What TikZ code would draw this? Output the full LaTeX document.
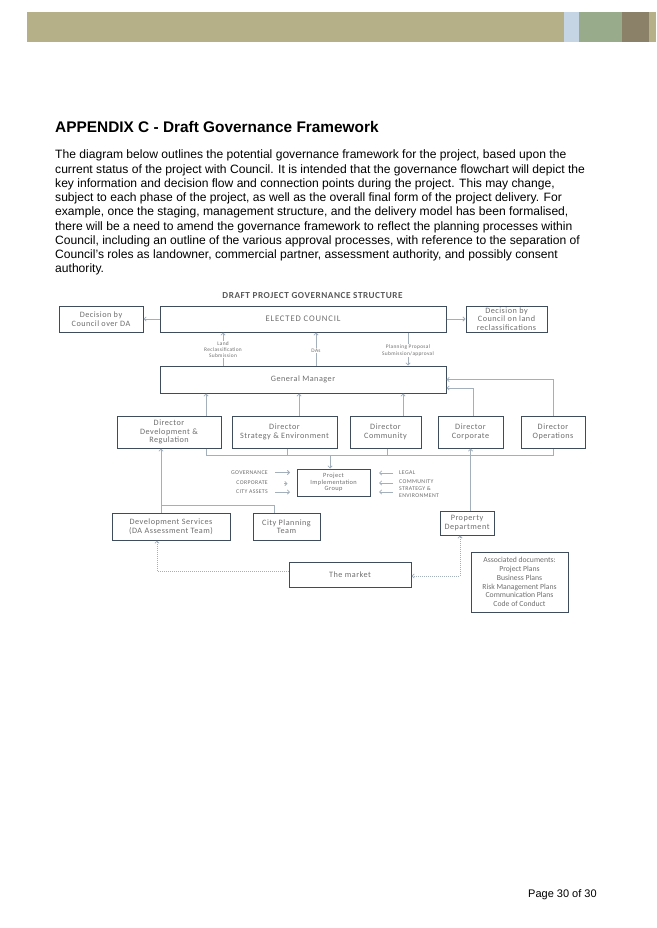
\documentclass[tikz,border=0pt]{standalone}
\usepackage{fontspec}
\setmainfont{Liberation Sans}
\newfontfamily\dfont{Carlito}[LetterSpace=6]
\newfontfamily\dfontw{Carlito}[LetterSpace=10]
\newfontfamily\dfontn{Carlito}
\usetikzlibrary{arrows.meta}
\definecolor{barA}{HTML}{B5B088}
\definecolor{barB}{HTML}{C6D5E4}
\definecolor{barC}{HTML}{98AB8A}
\definecolor{barD}{HTML}{8B8068}
\definecolor{boxc}{HTML}{3E4C5B}
\definecolor{connc}{HTML}{A3B0BC}
\definecolor{txtc}{HTML}{6E6E6E}
\begin{document}
\begin{tikzpicture}[x=1pt,y=-1pt,
  box/.style={draw=boxc,line width=1pt,fill=white,text=txtc,font=\dfont\fontsize{8.2}{8.6}\selectfont,align=center,inner sep=0pt},
  conn/.style={draw=connc,line width=0.75pt},
  arr/.style={-{Straight Barb[length=2.2pt,width=4.4pt]}},
  darr/.style={{Straight Barb[length=2.2pt,width=4.4pt]}-{Straight Barb[length=2.2pt,width=4.4pt]}},
  dots/.style={dash pattern=on 1pt off 1pt,line width=0.8pt},
  lbl/.style={font=\dfont\fontsize{5.4}{6.3}\selectfont,text=txtc,align=center,inner sep=0.6pt},
  sidel/.style={font=\dfont\fontsize{5.8}{6}\selectfont,text=txtc,inner sep=0pt},
  body/.style={font=\fontsize{12.1}{14}\selectfont,anchor=base west,inner sep=0pt}
]
\useasboundingbox[fill=white] (0,0) rectangle (656,928);
% top bar
\fill[barA] (27,12) rectangle (564,42);
\fill[barB] (564,12) rectangle (579,42);
\fill[barC] (579,12) rectangle (622,42);
\fill[barD] (622,12) rectangle (648.5,42);
\fill[barA] (648.5,12) rectangle (656,42);
% heading and text
\node[anchor=base west,inner sep=0pt,font=\bfseries\fontsize{15.4}{17}\selectfont] (head) at (55,132.5) {APPENDIX C - Draft Governance Framework};
\node[body] (l1) at (55,159) {The diagram below outlines the potential governance framework for the project, based upon the};
\node[body] (l2) at (55,173.2) {current status of the project with Council. It is intended that the governance flowchart will depict the};
\node[body] (l3) at (55,187.4) {key information and decision flow and connection points during the project. This may change,};
\node[body] (l4) at (55,201.6) {subject to each phase of the project, as well as the overall final form of the project delivery. For};
\node[body] (l5) at (55,215.8) {example, once the staging, management structure, and the delivery model has been formalised,};
\node[body] (l6) at (55,230) {there will be a need to amend the governance framework to reflect the planning processes within};
\node[body] (l7) at (55,244.2) {Council, including an outline of the various approval processes, with reference to the separation of};
\node[body] (l8) at (55,258.4) {Council’s roles as landowner, commercial partner, assessment authority, and possibly consent};
\node[body] (l9) at (55,272.6) {authority.};
% diagram title
\node[font=\dfont\bfseries\fontsize{9.2}{9.5}\selectfont,text=black!65,inner sep=0pt] (dt) at (312.5,296) {DRAFT PROJECT GOVERNANCE STRUCTURE};
% boxes
\node[box,minimum width=84,minimum height=26] (da) at (101,319) {Decision by\\Council over DA};
\node[box,minimum width=286,minimum height=26,font=\dfontw\fontsize{8.6}{9}\selectfont] (ec) at (303,319) {ELECTED COUNCIL};
\node[box,minimum width=81,minimum height=26] (lr) at (506.5,319) {Decision by\\Council on land\\reclassifications};
\node[box,minimum width=286,minimum height=27] (gm) at (303,379.5) {General Manager};
\node[box,minimum width=104,minimum height=32] (d1) at (169,432) {Director\\Development \&\\Regulation};
\node[box,minimum width=105,minimum height=32] (d2) at (284.5,432) {Director\\Strategy \& Environment};
\node[box,minimum width=71,minimum height=32] (d3) at (385.5,432) {Director\\Community};
\node[box,minimum width=65,minimum height=32] (d4) at (470.5,432) {Director\\Corporate};
\node[box,minimum width=64,minimum height=32] (d5) at (553,432) {Director\\Operations};
\node[box,minimum width=73,minimum height=27,font=\dfont\fontsize{6.4}{6.6}\selectfont] (pig) at (333.5,482.5) {Project\\Implementation\\Group};
\node[box,minimum width=118,minimum height=27] (ds) at (171,526.5) {Development Services\\(DA Assessment Team)};
\node[box,minimum width=67,minimum height=27] (cp) at (286.5,526.5) {City Planning\\Team};
\node[box,minimum width=54,minimum height=24] (pd) at (467,523) {Property\\Department};
\node[box,minimum width=122,minimum height=25] (mk) at (350,574.5) {The market};
\node[box,minimum width=97,minimum height=60,font=\dfontn\fontsize{7.7}{8.7}\selectfont] (ad) at (519.5,582) {Associated documents:\\Project Plans\\Business Plans\\Risk Management Plans\\Communication Plans\\Code of Conduct};
% coordinates for connector lanes
\coordinate (xa) at (223,0);
\coordinate (xb) at (316,0);
\coordinate (xc) at (408,0);
\coordinate (x1) at (206,0);
\coordinate (x2) at (299,0);
\coordinate (x3) at (403,0);
\coordinate (x4) at (473,0);
\coordinate (y4) at (0,388);
\coordinate (bus) at (0,455);
\coordinate (b2) at (287,0);
\coordinate (b3) at (387,0);
\coordinate (bp) at (330,0);
\coordinate (xd) at (161,0);
\coordinate (yj) at (0,505);
\coordinate (xcp) at (274,0);
\coordinate (xm) at (157,0);
\coordinate (ym) at (0,571);
\coordinate (xp) at (460,0);
\coordinate (yp) at (0,576);
% council connectors
\draw[conn,arr] (ec.west) -- (da.east);
\draw[conn,arr] (ec.east) -- (lr.west);
\draw[conn,arr] (gm.north -| xa) -- (ec.south -| xa);
\draw[conn,arr] (gm.north -| xb) -- (ec.south -| xb);
\draw[conn,arr] (ec.south -| xc) -- (gm.north -| xc);
\node[lbl,fill=white] (lab1) at (223,349.5) {Land\\Reclassification\\Submission};
\node[lbl,fill=white] (lab2) at (316,350.5) {DAs};
\node[lbl,fill=white] (lab3) at (408,350.5) {Planning Proposal\\Submission/approval};
% directors to GM
\draw[conn,arr] (d1.north -| x1) -- (gm.south -| x1);
\draw[conn,arr] (d2.north -| x2) -- (gm.south -| x2);
\draw[conn,arr] (d3.north -| x3) -- (gm.south -| x3);
\draw[conn,arr] (d4.north -| x4) |- (gm.east |- y4);
\draw[conn,arr] (d5.north) |- (gm.east);
% bus
\draw[conn] (d1.south -| x1) -- (bus -| x1) -- (bus -| d5) -- (d5.south);
\draw[conn] (d2.south -| b2) -- (bus -| b2);
\draw[conn] (d3.south -| b3) -- (bus -| b3);
\draw[conn,arr] (bus -| bp) -- (pig.north -| bp);
% lower left
\draw[conn,arr] (ds.north -| xd) -- (d1.south -| xd);
\draw[conn] (yj -| xd) -- (yj -| xcp) -- (cp.north -| xcp);
\draw[conn,arr] (pd.north -| d4) -- (d4.south);
% dotted market links
\draw[conn,dots,arr] (mk.west |- ym) -- (ym -| xm) -- (ds.south -| xm);
\draw[conn,dots,darr] (mk.east |- yp) -- (yp -| xp) -- (pd.south -| xp);
% PIG side labels
\node[sidel,anchor=east] (g1) at (268,472.5) {GOVERNANCE};
\node[sidel,anchor=east] (g2) at (268,482.5) {CORPORATE};
\node[sidel,anchor=east] (g3) at (268,492) {CITY ASSETS};
\coordinate (la) at (275,0);
\coordinate (lb) at (290,0);
\draw[conn,arr] (g1.east -| la) -- (g1.east -| lb);
\draw[conn,arr] (284,483.5) -- (287.5,483.5);
\draw[conn,arr] (g3.east -| la) -- (g3.east -| lb);
\node[sidel,anchor=west] (h1) at (399,472.5) {LEGAL};
\node[sidel,anchor=west] (h2) at (399,481.5) {COMMUNITY};
\node[sidel,anchor=west,align=left,font=\dfont\fontsize{5.8}{7}\selectfont] (h3) at (399,492) {STRATEGY \&\\ENVIRONMENT};
\coordinate (ra) at (393,0);
\coordinate (rb) at (379,0);
\coordinate (r1) at (0,473);
\coordinate (r2) at (0,483);
\coordinate (r3) at (0,492);
\draw[conn,arr] (r1 -| ra) -- (r1 -| rb);
\draw[conn,arr] (r2 -| ra) -- (r2 -| rb);
\draw[conn,arr] (r3 -| ra) -- (r3 -| rb);
% footer
\node[anchor=base west,inner sep=0pt,font=\fontsize{11}{12}\selectfont] (pg) at (528,897) {Page 30 of 30};
\end{tikzpicture}
\end{document}
